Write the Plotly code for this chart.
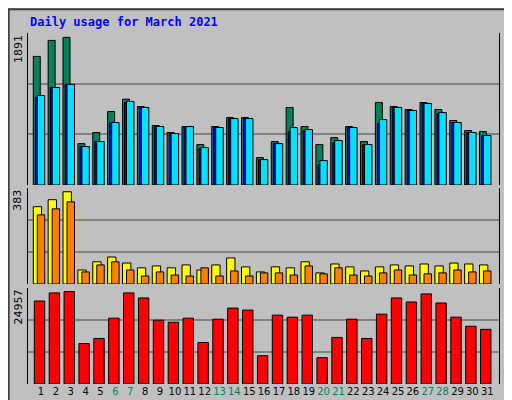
import plotly.graph_objects as go

# daily values
days = list(range(1, 32))
weekend = [6, 7, 13, 14, 20, 21, 27, 28]

hits = [1647, 1852, 1891, 530, 672, 941, 1099, 1005, 761, 672, 749, 518, 749, 864,
        864, 351, 556, 993, 749, 518, 607, 749, 556, 1057, 1005, 967, 1057, 967,
        826, 697, 684]
files = [1121, 1249, 1288, 492, 556, 800, 1057, 993, 749, 659, 749, 466, 736, 851,
         851, 325, 530, 684, 697, 261, 543, 736, 518, 787, 993, 954, 1044, 916,
         800, 672, 633]
pages = [1147, 1249, 1288, 492, 556, 800, 1070, 993, 749, 659, 749, 479, 736, 851,
         851, 325, 530, 736, 710, 312, 569, 736, 518, 838, 993, 954, 1044, 928,
         800, 672, 633]
visits = [321, 350, 383, 58, 92, 112, 87, 67, 75, 67, 79, 58, 79, 108, 71, 50,
          71, 67, 92, 46, 83, 71, 54, 71, 79, 75, 83, 75, 87, 83, 79]
sites = [287, 312, 341, 50, 79, 92, 58, 33, 50, 37, 33, 67, 33, 54, 33, 46, 46,
         37, 75, 42, 67, 37, 33, 46, 58, 37, 42, 46, 58, 50, 54]
kbytes = [22407, 24593, 24957, 10930, 12297, 17762, 24593, 23227, 17216, 16669,
          17762, 11204, 17489, 20495, 19948, 7651, 18582, 18035, 18582, 7105,
          12570, 17489, 12297, 18855, 23227, 22134, 24320, 21861, 18035, 15576,
          14756]

bg = "#C0C0C0"
grid = "#808080"
edge = dict(color="black", width=1)

fig = go.Figure()

def bars(y, color, offset, width, axis):
    fig.add_trace(go.Bar(
        x=days, y=y, offset=offset, width=width, marker=dict(color=color, line=edge),
        xaxis="x", yaxis=axis, showlegend=False, hoverinfo="y"))

bars(hits, "#00805c", -0.52, 0.47, "y")
bars(files, "#0000ff", -0.38, 0.5, "y")
bars(pages, "#00e0ff", -0.25, 0.5, "y")
bars(visits, "#ffff00", -0.52, 0.56, "y2")
bars(sites, "#ff8000", -0.25, 0.5, "y2")
bars(kbytes, "#ff0000", -0.45, 0.7, "y3")

def yax(top, dom):
    return dict(domain=dom, range=[0, top], tickvals=[top / 3, 2 * top / 3],
                showticklabels=False, ticks="", gridcolor=grid, gridwidth=1.5,
                zeroline=False, showline=True, linecolor="black", mirror=True,
                fixedrange=True, anchor="x")

tick_text = [f'<span style="color:#00805c">{d}</span>' if d in weekend else str(d)
             for d in days]

fig.update_layout(
    width=512, height=400, barmode="overlay",
    paper_bgcolor=bg, plot_bgcolor=bg,
    margin=dict(l=20, r=21, t=25, b=24),
    font=dict(family="DejaVu Sans", size=11, color="black"),
    xaxis=dict(range=[0.126, 31.79], tickvals=days, ticktext=tick_text, ticks="",
               tickangle=0, showgrid=False, showline=False,
               tickfont=dict(size=10), anchor="y3"),
    yaxis=yax(1947, [0.567, 1]),
    yaxis2=yax(398, [0.285, 0.558]),
    yaxis3=yax(25959, [0, 0.274]),
)

# frame around the whole image
fig.add_shape(type="rect", xref="paper", yref="paper", x0=-0.041, x1=1.043,
              y0=-0.066, y1=1.068, line=dict(color="#404040", width=2))

fig.add_annotation(text="<b>Daily usage for March 2021</b>", xref="paper", yref="paper",
                   x=0, y=1.031, xanchor="left", yanchor="middle", showarrow=False,
                   font=dict(family="DejaVu Sans Mono", size=12, color="#0000ff"))

# max value labels on the left
for txt, ytop in [("1891", 1.0), ("383", 0.558), ("24957", 0.274)]:
    fig.add_annotation(text=txt, textangle=-90, xref="paper", yref="paper",
                       x=-0.003, y=ytop, xanchor="right", yanchor="top",
                       showarrow=False, font=dict(size=11))

legend_font = dict(family="DejaVu Sans Mono", size=11)
right = [
    ('<span style="color:#00e0ff">Pages</span> / <span style="color:#0000ff">Files</span>'
     ' / <span style="color:#00805c">Hits</span>', 0.567),
    ('<span style="color:#ff8000">Sites</span> / <span style="color:#ffff00">Visits</span>', 0.285),
    ('<span style="color:#ff0000">KBytes</span>', 0.0),
]
for txt, ybot in right:
    fig.add_annotation(text=txt, textangle=-90, xref="paper", yref="paper",
                       x=1.02, y=ybot, xanchor="center", yanchor="bottom",
                       showarrow=False, font=dict(legend_font, color="gray"))

fig.write_html("out.html")
